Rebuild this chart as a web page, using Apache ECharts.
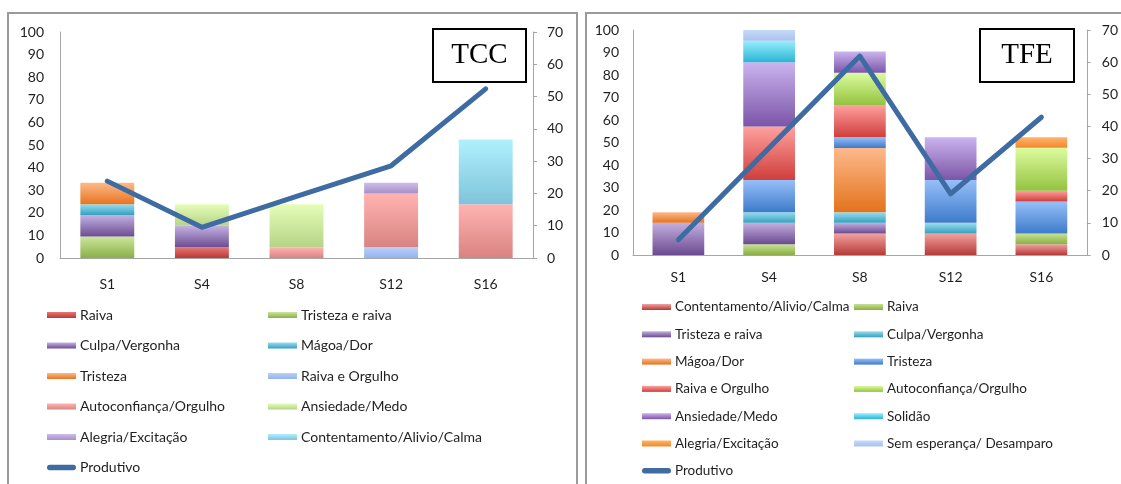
<!DOCTYPE html>
<html>
<head>
<meta charset="utf-8">
<title>TCC / TFE</title>
<script src="https://cdn.jsdelivr.net/npm/echarts@6/dist/echarts.min.js"></script>
<style>
  html, body { margin: 0; padding: 0; background: #fff; overflow: hidden; }
  body { width: 1121px; height: 484px; position: relative; }
  .frame { position: absolute; border: 2px solid #9a9a9a; border-bottom: none; box-sizing: border-box; }
  .chart { position: absolute; top: 0; height: 484px; }
</style>
</head>
<body>
<div class="frame" style="left:7px; top:12px; width:571px; height:480px;"></div>
<div class="frame" style="left:585px; top:12px; width:560px; height:480px;"></div>
<div id="tcc" class="chart" style="left:0; width:580px;"></div>
<div id="tfe" class="chart" style="left:580px; width:541px;"></div>
<script>
// Sessions shared by both panels
const sessions = ['S1', 'S4', 'S8', 'S12', 'S16'];
const leftTicks = [0, 100, 10];   // min, max, interval (left axis, %)
const rightTicks = [0, 70, 10];   // min, max, interval (right axis, Produtivo)

// ---- TCC panel ----
const tccNames = ['Raiva', 'Tristeza e raiva', 'Culpa/Vergonha', 'Mágoa/Dor', 'Tristeza',
  'Raiva e Orgulho', 'Autoconfiança/Orgulho', 'Ansiedade/Medo', 'Alegria/Excitação',
  'Contentamento/Alivio/Calma'];
const tccRaiva            = [null, 4.76, null, null, null];
const tccTristezaRaiva    = [9.52, null, null, null, null];
const tccCulpa            = [9.52, 9.52, null, null, null];
const tccMagoa            = [4.76, null, null, null, null];
const tccTristeza         = [9.52, null, null, null, null];
const tccRaivaOrgulho     = [null, null, null, 4.76, null];
const tccAutoconfianca    = [null, null, 4.76, 23.81, 23.81];
const tccAnsiedade        = [null, 9.52, 19.05, null, null];
const tccAlegria          = [null, null, null, 4.76, null];
const tccContentamento    = [null, null, null, null, 28.57];
const tccProdutivo        = [23.81, 9.52, 19.05, 28.57, 52.38];

// ---- TFE panel ----
const tfeNames = ['Contentamento/Alivio/Calma', 'Raiva', 'Tristeza e raiva', 'Culpa/Vergonha',
  'Mágoa/Dor', 'Tristeza', 'Raiva e Orgulho', 'Autoconfiança/Orgulho', 'Ansiedade/Medo',
  'Solidão', 'Alegria/Excitação', 'Sem esperança/ Desamparo'];
const tfeContentamento    = [null, null, 9.52, 9.52, 4.76];
const tfeRaiva            = [null, 4.76, null, null, 4.76];
const tfeTristezaRaiva    = [14.29, 9.52, 4.76, null, null];
const tfeCulpa            = [null, 4.76, 4.76, 4.76, null];
const tfeMagoa            = [4.76, null, 28.57, null, null];
const tfeTristeza         = [null, 14.29, 4.76, 19.05, 14.29];
const tfeRaivaOrgulho     = [null, 23.81, 14.29, null, 4.76];
const tfeAutoconfianca    = [null, null, 14.29, null, 19.05];
const tfeAnsiedade        = [null, 28.57, 9.52, 19.05, null];
const tfeSolidao          = [null, 9.52, null, null, null];
const tfeAlegria          = [null, null, null, null, 4.76];
const tfeSemEsperanca     = [null, 4.76, null, null, null];
const tfeProdutivo        = [4.76, 33.33, 61.90, 19.05, 42.86];

// Vertical gradient fills (light top, deep bottom)
function grad(top, bottom) {
  return new echarts.graphic.LinearGradient(0, 0, 0, 1, [
    { offset: 0, color: top }, { offset: 1, color: bottom }
  ]);
}
const tccFills = [
  grad('#E97673', '#B83A37'),
  grad('#CDE69C', '#8AB048'),
  grad('#C4B2E2', '#6B4D92'),
  grad('#98DDF0', '#35A0BE'),
  grad('#FDBA88', '#E8741F'),
  grad('#BBD0F8', '#93B2EE'),
  grad('#FFB4B2', '#D98381'),
  grad('#E6FDB8', '#B5D487'),
  grad('#CDBDE8', '#A690CA'),
  grad('#B0F0FD', '#7FC4DB')
];
const tfeFills = [
  grad('#F1A2A0', '#B53A38'),
  grad('#C6E193', '#89AF44'),
  grad('#C3AFDE', '#6A4A91'),
  grad('#9CDDEF', '#33A0BE'),
  grad('#FDB98C', '#E3731C'),
  grad('#97BFF9', '#3D7BCA'),
  grad('#FFA19F', '#CF3E3B'),
  grad('#DCFC9F', '#94C240'),
  grad('#CBB4EF', '#7B55A7'),
  grad('#97EEFC', '#2BB5D5'),
  grad('#FFB46C', '#F2882C'),
  grad('#C6D9F9', '#A8C2EE')
];
const lineColor = '#3E6BA2';
const fontFamily = 'Lato, "Liberation Sans", sans-serif';
const textColor = '#1f1f1f';
const capsule = 'path://M3,0 L29,0 A3,3 0 0 1 29,6 L3,6 A3,3 0 0 1 3,0 Z';

function buildOption(cfg) {
  const series = cfg.names.map((name, i) => ({
    name: name,
    type: 'bar',
    stack: 'total',
    barWidth: '57%',
    yAxisIndex: 0,
    itemStyle: { color: cfg.fills[i] },
    data: cfg.values[i]
  }));
  series.push({
    name: 'Produtivo',
    type: 'line',
    yAxisIndex: 1,
    symbol: 'none',
    z: 10,
    lineStyle: { color: lineColor, width: 5, cap: 'round', join: 'round' },
    itemStyle: { color: lineColor },
    data: cfg.line
  });
  const legendBase = {
    orient: 'vertical',
    itemWidth: 29,
    itemHeight: 6,
    icon: 'rect',
    selectedMode: false,
    padding: 0,
    itemGap: cfg.legendGap,
    textStyle: { fontFamily: fontFamily, fontSize: cfg.legendFont, color: textColor, padding: [0, 0, 0, -1] }
  };
  const col1 = [], col2 = [];
  cfg.names.forEach((n, i) => (i % 2 === 0 ? col1 : col2).push(n));
  col1.push({ name: 'Produtivo', icon: capsule, itemStyle: { color: lineColor } });
  const axisLabel = { fontFamily: fontFamily, fontSize: 14, color: textColor };
  return {
    animation: false,
    grid: cfg.grid,
    xAxis: {
      type: 'category',
      data: sessions,
      axisLine: { lineStyle: { color: '#A6A6A6' } },
      axisTick: { show: false },
      axisLabel: Object.assign({ margin: cfg.xMargin }, axisLabel)
    },
    yAxis: [
      {
        type: 'value', min: leftTicks[0], max: leftTicks[1], interval: leftTicks[2],
        axisLine: { show: true, lineStyle: { color: '#A6A6A6' } },
        axisTick: { show: false },
        splitLine: { show: false },
        axisLabel: Object.assign({ margin: cfg.leftMargin }, axisLabel)
      },
      {
        type: 'value', min: rightTicks[0], max: rightTicks[1], interval: rightTicks[2],
        position: 'right',
        axisLine: { show: true, lineStyle: { color: '#A6A6A6' } },
        axisTick: { show: true, length: 4, lineStyle: { color: '#A6A6A6' } },
        splitLine: { show: false },
        axisLabel: Object.assign({ margin: cfg.rightMargin }, axisLabel)
      }
    ],
    legend: [
      Object.assign({ left: cfg.legendX[0], top: cfg.legendTop, data: col1 }, legendBase),
      Object.assign({ left: cfg.legendX[1], top: cfg.legendTop, data: col2 }, legendBase)
    ],
    graphic: [{
      type: 'group',
      left: cfg.box[0],
      top: cfg.box[1],
      z: 100,
      children: [
        { type: 'rect', shape: { x: 0, y: 0, width: cfg.box[2], height: cfg.box[3] },
          style: { fill: '#fff', stroke: '#000', lineWidth: 2 } },
        { type: 'text', x: cfg.box[2] / 2, y: cfg.box[3] / 2,
          style: { text: cfg.title, fontFamily: '"Liberation Serif", "DejaVu Serif", serif',
                   fontSize: 29, fill: '#000', align: 'center', verticalAlign: 'middle' } }
      ]
    }],
    series: series
  };
}

const tcc = echarts.init(document.getElementById('tcc'), null, { renderer: 'canvas' });
tcc.setOption(buildOption({
  title: 'TCC',
  names: tccNames,
  fills: tccFills,
  values: [tccRaiva, tccTristezaRaiva, tccCulpa, tccMagoa, tccTristeza, tccRaivaOrgulho,
           tccAutoconfianca, tccAnsiedade, tccAlegria, tccContentamento],
  line: tccProdutivo,
  grid: { left: 60, right: 47, top: 32, bottom: 226 },
  xMargin: 19, leftMargin: 16, rightMargin: 14,
  legendX: [47, 268], legendTop: 308, legendGap: 16.5, legendFont: 14,
  box: [432, 28, 93, 53]
}));

const tfe = echarts.init(document.getElementById('tfe'), null, { renderer: 'canvas' });
tfe.setOption(buildOption({
  title: 'TFE',
  names: tfeNames,
  fills: tfeFills,
  values: [tfeContentamento, tfeRaiva, tfeTristezaRaiva, tfeCulpa, tfeMagoa, tfeTristeza,
           tfeRaivaOrgulho, tfeAutoconfianca, tfeAnsiedade, tfeSolidao, tfeAlegria, tfeSemEsperanca],
  line: tfeProdutivo,
  grid: { left: 53, right: 29, top: 30, bottom: 229 },
  xMargin: 15, leftMargin: 14, rightMargin: 15,
  legendX: [62, 274], legendTop: 300, legendGap: 13.3, legendFont: 13.5,
  box: [399, 28, 94, 53]
}));
</script>
</body>
</html>
